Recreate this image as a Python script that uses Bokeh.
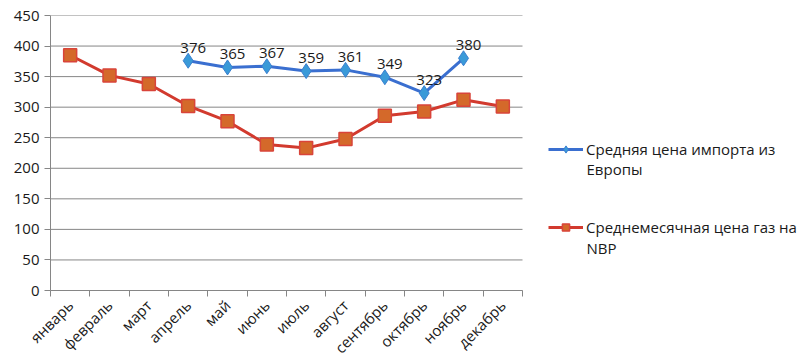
import numpy as np
from bokeh.plotting import figure
from bokeh.models import (Range1d, FixedTicker, Legend, LegendItem, Label, ColumnDataSource)
from bokeh.core.properties import value
from bokeh.embed import file_html
from bokeh.resources import INLINE

months = ["январь", "февраль", "март", "апрель", "май", "июнь", "июль",
          "август", "сентябрь", "октябрь", "ноябрь", "декабрь"]
import_europe = [None, None, None, 376, 365, 367, 359, 361, 349, 323, 380, None]
nbp_price = [385, 352, 338, 302, 277, 239, 233, 248, 286, 293, 312, 301]
name_import = "Средняя цена импорта из\nЕвропы"
name_nbp = "Среднемесячная цена газ на\nNBP"
y_ticks = list(range(0, 451, 50))

FONT = "Open Sans"
TXT = "#1a1a1a"
GRID = "#868686"
n = len(months)
x = np.arange(n) + 0.5
imp = np.array([np.nan if v is None else v for v in import_europe], dtype=float)
imp_lbl = ["" if v is None else str(v) for v in import_europe]

PLOT_W = 472          # width of the plotting area holding the 12 months
FRAME_W = 750         # frame extends to the right to host the legend
p = figure(frame_width=FRAME_W, frame_height=275, output_backend="svg", toolbar_location=None,
           x_range=Range1d(0, n * FRAME_W / PLOT_W), y_range=Range1d(0, 450),
           min_border_left=50, min_border_right=0, min_border_top=15, min_border_bottom=66)
p.outline_line_color = None
p.background_fill_color = "white"

# axes
p.xaxis.ticker = FixedTicker(ticks=list(x), minor_ticks=list(range(n + 1)))
p.xaxis.major_label_overrides = {float(xi): m for xi, m in zip(x, months)}
p.xaxis.major_label_orientation = np.pi / 4
p.xaxis.bounds = (0, n)
p.xaxis.major_tick_out = 0
p.xaxis.major_tick_in = 0
p.xaxis.minor_tick_out = 6
p.xaxis.minor_tick_in = 0
p.xaxis.minor_tick_line_color = GRID
p.xaxis.axis_line_color = GRID
p.xaxis.major_label_text_font = FONT
p.xaxis.major_label_text_font_size = "15px"
p.xaxis.major_label_text_color = TXT
p.xaxis.major_label_standoff = 6

p.yaxis.ticker = FixedTicker(ticks=y_ticks)
p.yaxis.minor_tick_line_color = None
p.yaxis.major_tick_out = 6
p.yaxis.major_tick_in = 0
p.yaxis.major_tick_line_color = GRID
p.yaxis.axis_line_color = GRID
p.yaxis.major_label_text_font = FONT
p.yaxis.major_label_text_font_size = "15px"
p.yaxis.major_label_text_color = TXT
p.yaxis.major_label_standoff = 5

p.xgrid.grid_line_color = None
p.ygrid.grid_line_color = None
# horizontal gridlines limited to the months area
p.segment(x0=[0] * len(y_ticks), x1=[n] * len(y_ticks), y0=y_ticks, y1=y_ticks,
          line_color=GRID, line_width=1)

src_nbp = ColumnDataSource(dict(x=x, y=nbp_price))
src_imp = ColumnDataSource(dict(x=x, y=imp, lbl=imp_lbl))

r_nbp_l = p.line("x", "y", source=src_nbp, line_color="#D23A2E", line_width=3)
r_nbp_m = p.scatter("x", "y", source=src_nbp, marker="square", size=13,
                    fill_color="#D4692A", line_color="#D9443A", line_width=1.5)
r_imp_l = p.line("x", "y", source=src_imp, line_color="#3A6FD0", line_width=3)
r_imp_m = p.scatter("x", "y", source=src_imp, marker="diamond", size=15,
                    fill_color="#3A9AD8", line_color="#3A7FD0", line_width=1)
p.text("x", "y", text="lbl", source=src_imp, y_offset=-8, x_offset=5,
       text_align="center", text_baseline="bottom",
       text_font=value(FONT), text_font_size="15px", text_color=TXT)

# legends
lines_imp = name_import.split("\n")
lines_nbp = name_nbp.split("\n")
leg1 = Legend(items=[LegendItem(label=lines_imp[0], renderers=[r_imp_l, r_imp_m])],
              location=(498, 131))
leg2 = Legend(items=[LegendItem(label=lines_nbp[0], renderers=[r_nbp_l, r_nbp_m])],
              location=(498, 53))
for lg in (leg1, leg2):
    lg.padding = 0
    lg.margin = 0
    lg.border_line_color = None
    lg.background_fill_alpha = 0
    lg.glyph_width = 35
    lg.glyph_height = 18
    lg.label_height = 18
    lg.label_standoff = 3
    lg.label_text_font = FONT
    lg.label_text_font_size = "15px"
    lg.label_text_color = TXT
    p.add_layout(lg, "center")

p.add_layout(Label(x=536, y=122, x_units="screen", y_units="screen", text=lines_imp[1],
                   text_font=FONT, text_font_size="15px", text_color=TXT,
                   text_baseline="middle"))
p.add_layout(Label(x=536, y=43, x_units="screen", y_units="screen", text=lines_nbp[1],
                   text_font=FONT, text_font_size="15px", text_color=TXT,
                   text_baseline="middle"))

open("out.html", "w").write(file_html(p, INLINE))
